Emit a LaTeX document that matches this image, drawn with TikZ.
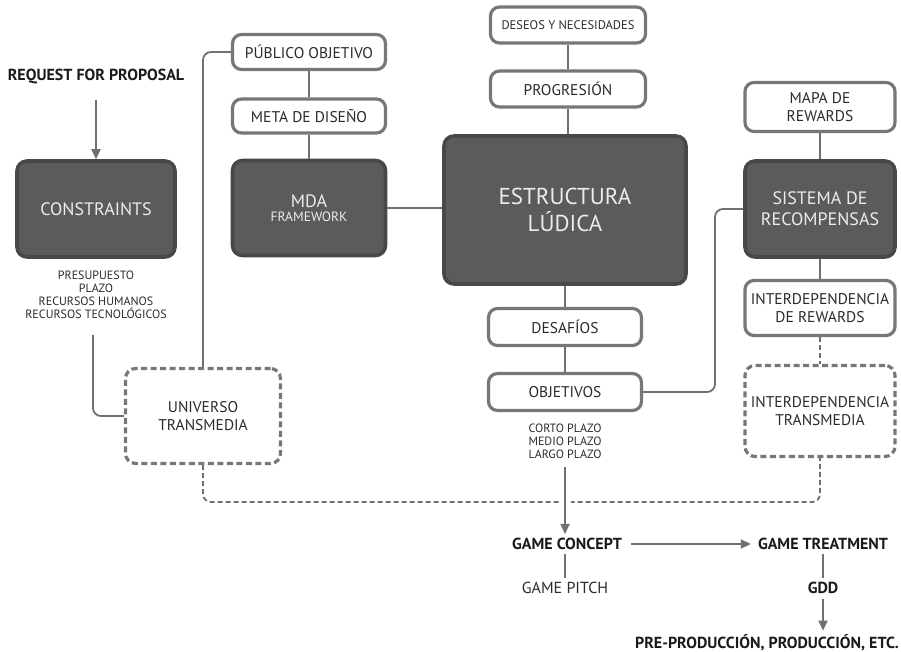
\documentclass[tikz,border=0pt]{standalone}
\usepackage{fontspec}
\setmainfont{PT Sans}
\usetikzlibrary{arrows.meta}
\definecolor{boxgray}{HTML}{77777A}
\definecolor{conngray}{HTML}{707073}
\definecolor{darkfill}{HTML}{5B5B5E}
\definecolor{darkedge}{HTML}{48484B}
\definecolor{txt}{HTML}{2B2B2D}
\definecolor{lighttxt}{HTML}{ECECEC}
\definecolor{boldtxt}{HTML}{1A1A1A}
\newcommand{\fs}[1]{\fontsize{#1}{#1}\selectfont}
\tikzset{
  lightbox/.style={draw=boxgray, line width=3.2pt, fill=white, rounded corners=9pt,
    text=txt, font=\fs{15.5}, align=center, inner sep=0pt},
  darkbox/.style={draw=darkedge, line width=3.6pt, fill=darkfill, rounded corners=10pt,
    text=lighttxt, align=center, inner sep=0pt},
  dashbox/.style={draw=boxgray, line width=3.2pt, dash pattern=on 6pt off 3.5pt,
    rounded corners=10pt, text=txt, font=\fs{15.5}, align=center, inner sep=0pt},
  conn/.style={draw=conngray, line width=1.8pt},
  dashconn/.style={draw=conngray, line width=1.8pt, dash pattern=on 5pt off 3pt},
  arrowconn/.style={conn, -{Triangle[length=10pt,width=9pt]}},
  boldlabel/.style={text=boldtxt, font=\bfseries\fs{16}, inner sep=1pt},
  smalllist/.style={text=txt, font=\fs{12}, align=center, inner sep=0pt},
}
\begin{document}
\begin{tikzpicture}[x=1pt, y=-1pt]
\useasboundingbox (0,0) rectangle (901,652);

% left column: request and constraints
\node[boldlabel] (rfp) at (96,77) {REQUEST FOR PROPOSAL};
\node[darkbox, minimum width=158pt, minimum height=96pt, font=\fs{18}] (cons) at (96,209) {CONSTRAINTS};
\node[smalllist] (constext) at (96,295) {PRESUPUESTO\\[1pt]PLAZO\\[1pt]RECURSOS HUMANOS\\[1pt]RECURSOS TECNOLÓGICOS};

% MDA column
\node[lightbox, minimum width=153pt, minimum height=35pt] (pub) at (309,52) {PÚBLICO OBJETIVO};
\node[lightbox, minimum width=153pt, minimum height=34pt] (meta) at (309,116) {META DE DISEÑO};
\node[darkbox, minimum width=153pt, minimum height=95pt] (mda) at (309,208)
  {{\fs{18}MDA}\\[2pt]{\fs{13.5}FRAMEWORK}};
\node[dashbox, minimum width=155pt, minimum height=95pt] (univ) at (203,416) {UNIVERSO\\[2pt]TRANSMEDIA};

% central column
\node[lightbox, minimum width=155pt, minimum height=36pt, font=\fs{12.5}] (deseos) at (568,25) {DESEOS Y NECESIDADES};
\node[lightbox, minimum width=155pt, minimum height=36pt] (prog) at (568,89) {PROGRESIÓN};
\node[darkbox, minimum width=242pt, minimum height=148pt, font=\fs{23}] (est) at (565,210)
  {ESTRUCTURA\\[4pt]LÚDICA};
\node[lightbox, minimum width=153pt, minimum height=37pt] (desaf) at (565,327) {DESAFÍOS};
\node[lightbox, minimum width=153pt, minimum height=37pt] (obj) at (565,392) {OBJETIVOS};
\node[smalllist] (objtext) at (565,441) {CORTO PLAZO\\[1pt]MEDIO PLAZO\\[1pt]LARGO PLAZO};

% rewards column
\node[lightbox, minimum width=150pt, minimum height=49pt] (mapa) at (820,107) {MAPA DE\\[2pt]REWARDS};
\node[darkbox, minimum width=150pt, minimum height=96pt, font=\fs{18}] (sis) at (820,209)
  {SISTEMA DE\\[3pt]RECOMPENSAS};
\node[lightbox, minimum width=150pt, minimum height=55pt] (irew) at (820,308) {INTERDEPENDENCIA\\[2pt]DE REWARDS};
\node[dashbox, minimum width=150pt, minimum height=91pt] (itrans) at (820,411) {INTERDEPENDENCIA\\[2pt]TRANSMEDIA};

% production chain
\node[boldlabel] (concept) at (567,544) {GAME CONCEPT};
\node[boldlabel] (treat) at (823,544) {GAME TREATMENT};
\node[text=txt, font=\fs{16}, inner sep=1pt] (pitch) at (565,588) {GAME PITCH};
\node[boldlabel] (gdd) at (823,588) {GDD};
\node[boldlabel] (pre) at (767,643) {PRE-PRODUCCIÓN, PRODUCCIÓN, ETC.};

% helper points for bends
\coordinate (cstart) at (93,335);
\coordinate (bendR) at (715,300);
\coordinate (busR) at (820,502);

% connectors
\draw[arrowconn] ([yshift=-14pt]rfp.south) -- (rfp.south |- cons.north);
\draw[conn] (pub.south) -- (meta.north);
\draw[conn] (meta.south) -- (mda.north);
\draw[conn] (mda.east) -- (mda.east -| est.west);
\draw[conn, rounded corners=8pt] (pub.west) -| (univ.north);
\draw[conn, rounded corners=8pt] (cstart) |- (univ.west);
\draw[conn] (deseos.south) -- (prog.north);
\draw[conn] (prog.south) -- (prog.south |- est.north);
\draw[conn] (est.south) -- (desaf.north);
\draw[conn] (desaf.south) -- (obj.north);
\draw[conn] (mapa.south) -- (sis.north);
\draw[conn] (sis.south) -- (irew.north);
\draw[dashconn] (irew.south) -- (itrans.north);
\draw[conn, rounded corners=8pt] (obj.east) -| (bendR) |- (sis.west);
\draw[dashconn, rounded corners=8pt] (univ.south) |- (busR) -- (itrans.south);
\draw[arrowconn, preaction={draw=white, line width=12pt, -, shorten >=14pt}]
  ([yshift=-8pt]objtext.south) -- ([yshift=3pt]objtext.south |- concept.north);
\draw[arrowconn] ([xshift=8pt]concept.east) -- ([xshift=-6pt]treat.west);
\draw[conn] ([yshift=-3pt]pitch.north |- concept.south) -- ([yshift=3pt]pitch.north);
\draw[conn] ([yshift=-3pt]treat.south) -- ([yshift=3pt]gdd.north);
\draw[arrowconn] ([yshift=-4pt]gdd.south) -- ([yshift=3pt]gdd.south |- pre.north);
\end{tikzpicture}
\end{document}
